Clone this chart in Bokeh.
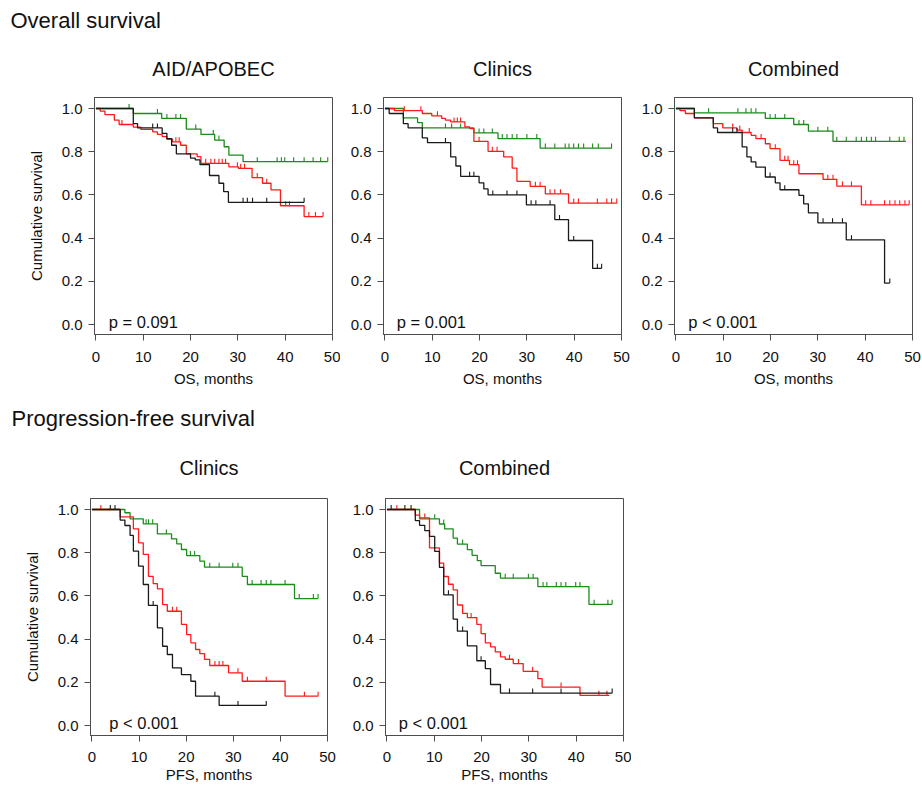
import numpy as np
from bokeh.plotting import figure
from bokeh.layouts import column, row
from bokeh.models import Label, Range1d, FixedTicker, PrintfTickFormatter
from bokeh.core.properties import value
from bokeh.embed import file_html
from bokeh.resources import INLINE

# ---------------- data (months, cumulative survival) ----------------
x_ticks = [0, 10, 20, 30, 40, 50]
y_ticks = [0.0, 0.2, 0.4, 0.6, 0.8, 1.0]
headings = ["Overall survival", "Progression-free survival"]
panel_titles = ["AID/APOBEC", "Clinics", "Combined", "Clinics", "Combined"]
x_labels = ["OS, months", "OS, months", "OS, months", "PFS, months", "PFS, months"]
p_values = ["p = 0.091", "p = 0.001", "p < 0.001", "p < 0.001", "p < 0.001"]
p_value_x = [2.7, 2.5, 2.6, 3.7, 2.5]

# Panel 1: OS, AID/APOBEC
os_aid_green_t = [7.9, 13.9, 19.1, 22.2, 25.1, 27.1, 28.1, 31.1]
os_aid_green_s = [0.977, 0.954, 0.905, 0.88, 0.854, 0.823, 0.784, 0.754]
os_aid_green_c = [7.0, 13.0, 15.0, 16.9, 17.9, 21.1, 24.8, 26.0, 34.1, 38.3, 39.2, 39.9, 41.8, 44.0, 45.9, 47.5, 49.0]
os_aid_green_end = 49.0
os_aid_red_t = [0.9, 1.9, 3.9, 4.9, 7.9, 9.5, 12, 13, 14, 15, 16.2, 17.9, 19.1, 21.4, 22.2, 28.1, 30.1, 33, 35.2, 37, 39, 44]
os_aid_red_s = [0.988, 0.972, 0.946, 0.926, 0.914, 0.903, 0.892, 0.88, 0.87, 0.858, 0.846, 0.83, 0.79, 0.777, 0.746, 0.73, 0.723, 0.68, 0.654, 0.623, 0.55, 0.5]
os_aid_red_c = [5.5, 16.9, 17.6, 23.2, 24.3, 25.1, 26.0, 26.7, 27.4, 29.9, 30.6, 31.4, 34.1, 36.1, 40.1, 40.9, 45.0, 46.4, 48.0]
os_aid_red_end = 48.0
os_aid_black_t = [7.9, 8.8, 14, 15, 16, 17, 20, 21, 22, 24, 26, 27, 28]
os_aid_black_s = [0.93, 0.91, 0.885, 0.86, 0.83, 0.79, 0.77, 0.762, 0.74, 0.69, 0.654, 0.615, 0.566]
os_aid_black_c = [12.0, 13.0, 31.1, 32.0, 33.1, 36.1, 44.0]
os_aid_black_end = 44.0

# Panel 2: OS, Clinics
os_cli_green_t = [3.9, 6.9, 7.9, 18.8, 23.9, 32.8]
os_cli_green_s = [0.957, 0.935, 0.91, 0.887, 0.861, 0.817]
os_cli_green_c = [12.8, 14.1, 16.0, 19.9, 20.9, 22.7, 24.8, 25.8, 26.9, 27.9, 30.0, 32.1, 33.9, 35.9, 38.1, 38.9, 39.9, 40.9, 42.0, 43.9, 45.1, 47.9]
os_cli_green_end = 48.0
os_cli_red_t = [2, 7.9, 9.9, 12, 12.8, 13.9, 16.9, 17.9, 18.8, 21.8, 25.1, 26.9, 27.9, 30.7, 33.9, 38.8]
os_cli_red_s = [0.99, 0.977, 0.966, 0.954, 0.946, 0.938, 0.915, 0.907, 0.848, 0.802, 0.776, 0.724, 0.663, 0.64, 0.605, 0.562]
os_cli_red_c = [4.1, 7.6, 11.1, 14.6, 15.3, 16.0, 19.9, 22.7, 23.7, 31.8, 32.8, 34.9, 35.9, 37.1, 39.9, 40.9, 44.9, 46.9, 47.9, 49.0]
os_cli_red_end = 49.0
os_cli_black_t = [0.9, 3.9, 4.9, 7.9, 9, 13.9, 15, 16, 19.9, 20.9, 21.8, 29.9, 35.9, 38.8, 43.9]
os_cli_black_s = [0.977, 0.93, 0.91, 0.864, 0.842, 0.776, 0.734, 0.686, 0.656, 0.628, 0.6, 0.554, 0.486, 0.389, 0.26]
os_cli_black_c = [12.8, 17.9, 18.8, 22.8, 25.8, 27.9, 30.9, 31.9, 34.9, 36.9, 39.9, 44.9, 45.8]
os_cli_black_end = 45.8

# Panel 3: OS, Combined
os_com_green_t = [3.9, 18.9, 24.9, 28, 33.2]
os_com_green_s = [0.98, 0.954, 0.926, 0.895, 0.848]
os_com_green_c = [6.9, 13.1, 14.8, 15.9, 16.9, 19.9, 21.0, 23.0, 26.0, 27.0, 30.0, 32.1, 34.0, 36.0, 38.1, 39.2, 40.3, 41.3, 42.2, 45.2, 47.2, 48.2]
os_com_green_end = 48.6
os_com_red_t = [0.85, 2, 3.9, 7.9, 9.9, 12.9, 14, 15.9, 16.9, 18.9, 19.9, 22, 24, 26, 31.1, 34, 39.2]
os_com_red_s = [0.99, 0.977, 0.957, 0.93, 0.91, 0.9, 0.889, 0.876, 0.861, 0.837, 0.814, 0.76, 0.74, 0.698, 0.672, 0.641, 0.554]
os_com_red_c = [12.0, 13.5, 15.5, 18.0, 21.0, 23.0, 23.7, 24.9, 25.7, 32.1, 33.2, 35.2, 37.1, 40.1, 41.2, 44.1, 45.2, 46.3, 47.3, 48.4, 49.3]
os_com_red_end = 49.3
os_com_black_t = [3.9, 7.9, 8.8, 14, 15, 15.9, 16.9, 18.9, 21, 22, 26, 27, 28, 30, 36, 44.1]
os_com_black_s = [0.957, 0.91, 0.889, 0.822, 0.776, 0.753, 0.729, 0.683, 0.656, 0.624, 0.598, 0.559, 0.517, 0.471, 0.392, 0.192]
os_com_black_c = [12.0, 12.9, 19.9, 23.0, 31.1, 33.1, 35.2, 37.1, 45.2]
os_com_black_end = 45.2

# Panel 4: PFS, Clinics
pfs_cli_green_t = [7, 8.1, 10.9, 13.9, 16.9, 18, 19, 20.1, 22.9, 23.9, 31.9, 33, 43]
pfs_cli_green_s = [0.985, 0.957, 0.934, 0.887, 0.864, 0.841, 0.815, 0.787, 0.761, 0.733, 0.691, 0.653, 0.588]
pfs_cli_green_c = [11.5, 12.0, 12.9, 15.8, 20.9, 21.8, 25.0, 27.0, 29.9, 31.0, 34.0, 35.9, 37.0, 38.0, 41.0, 44.0, 47.0, 48.0]
pfs_cli_green_end = 48.0
pfs_cli_red_t = [6, 8.8, 9.9, 10.9, 12, 13, 13.9, 15, 16, 19, 20.1, 21, 22, 22.9, 23.9, 25, 29, 31.9, 41]
pfs_cli_red_s = [0.966, 0.91, 0.846, 0.792, 0.691, 0.657, 0.633, 0.56, 0.529, 0.468, 0.421, 0.383, 0.352, 0.333, 0.306, 0.278, 0.244, 0.205, 0.136]
pfs_cli_red_c = [1.9, 17.1, 18.0, 26.1, 27.0, 27.8, 31.0, 33.0, 37.0, 45.1, 48.0]
pfs_cli_red_end = 48.0
pfs_cli_black_t = [6, 7, 8.1, 8.8, 9.9, 10.9, 12, 13.9, 15, 16, 17.1, 19, 21, 22, 27]
pfs_cli_black_s = [0.951, 0.926, 0.88, 0.807, 0.738, 0.653, 0.556, 0.452, 0.367, 0.329, 0.267, 0.236, 0.205, 0.136, 0.093]
pfs_cli_black_c = [3.9, 4.9, 13.0, 26.1, 31.0, 37.0]
pfs_cli_black_end = 37.0

# Panel 5: PFS, Combined
pfs_com_green_t = [6.9, 11.1, 12.2, 14, 14.9, 17, 18, 19.1, 19.9, 22.9, 24, 31.9, 42.7]
pfs_com_green_s = [0.957, 0.933, 0.91, 0.868, 0.84, 0.814, 0.788, 0.763, 0.74, 0.705, 0.682, 0.643, 0.561]
pfs_com_green_c = [10.1, 12.0, 16.0, 25.0, 26.7, 29.9, 30.9, 33.0, 33.8, 35.8, 36.8, 37.8, 39.9, 40.8, 43.8, 46.7, 47.6]
pfs_com_green_end = 47.6
pfs_com_red_t = [6, 6.9, 9, 11.1, 12, 13, 14, 14.9, 16, 17, 19, 19.9, 20.8, 21.9, 22.9, 24, 25, 26.7, 28.8, 31.9, 32.8, 40.8]
pfs_com_red_s = [0.974, 0.961, 0.822, 0.752, 0.69, 0.654, 0.628, 0.558, 0.519, 0.5, 0.468, 0.426, 0.383, 0.364, 0.341, 0.318, 0.307, 0.287, 0.251, 0.217, 0.178, 0.14]
pfs_com_red_c = [2.1, 8.0, 17.8, 25.9, 27.8, 30.8, 36.8, 44.8, 46.5]
pfs_com_red_end = 47.0
pfs_com_black_t = [6, 6.9, 8, 9, 10.1, 11.1, 12, 14, 14.9, 17, 19, 20.8, 21.9, 24]
pfs_com_black_s = [0.949, 0.927, 0.902, 0.876, 0.806, 0.732, 0.605, 0.493, 0.437, 0.369, 0.3, 0.264, 0.19, 0.15]
pfs_com_black_c = [0.9, 3.8, 5.1, 13.0, 16.0, 19.9, 25.9, 30.8, 36.8, 47.6]
pfs_com_black_end = 47.6

GREEN = "#1a8c1a"
RED = "#ff1a1a"
BLACK = "#1a1a1a"
FONT = "Liberation Sans"
AXIS_COL = "#4d4d4d"
TXT = "#111111"


def km(p, t, s, c, end, color):
    t = np.asarray(t, float)
    s = np.asarray(s, float)
    xs = np.concatenate([[0.0], t, [end]])
    ys = np.concatenate([[1.0], s, [s[-1]]])
    p.step(x=xs, y=ys, mode="after", line_color=color, line_width=1.3)
    c = np.asarray(c, float)
    idx = np.searchsorted(t, c, side="right")
    cs = np.where(idx == 0, 1.0, s[np.maximum(idx - 1, 0)])
    p.segment(x0=c, y0=cs, x1=c, y1=cs + 0.021, line_color=color, line_width=1.1)


def panel(i, bl, fw, br, bt, fh, bb, curves, ylabel, x_std, xlab_std):
    p = figure(width=bl + fw + br, height=bt + fh + bb, output_backend="svg",
               toolbar_location=None, min_border_left=bl, min_border_right=br,
               min_border_top=bt, min_border_bottom=bb,
               x_range=Range1d(-0.3, 50), y_range=Range1d(-0.046, 1.051))
    p.xgrid.visible = False
    p.ygrid.visible = False
    p.outline_line_color = AXIS_COL
    p.outline_line_width = 1
    p.background_fill_color = "white"
    p.border_fill_color = "white"
    for ax in (p.xaxis[0], p.yaxis[0]):
        ax.axis_line_color = AXIS_COL
        ax.major_tick_line_color = AXIS_COL
        ax.minor_tick_line_color = None
        ax.major_tick_in = 0
        ax.major_tick_out = 6
        ax.major_label_text_font = FONT
        ax.major_label_text_font_size = "15px"
        ax.major_label_text_color = TXT
        ax.axis_label_text_font = FONT
        ax.axis_label_text_font_size = "15px"
        ax.axis_label_text_font_style = "normal"
        ax.axis_label_text_color = TXT
    p.xaxis.ticker = FixedTicker(ticks=x_ticks)
    p.yaxis.ticker = FixedTicker(ticks=y_ticks)
    p.yaxis.formatter = PrintfTickFormatter(format="%.1f")
    p.xaxis.major_label_standoff = x_std
    p.yaxis.major_label_standoff = 6
    p.xaxis.axis_label = x_labels[i]
    p.xaxis.axis_label_standoff = xlab_std
    if ylabel:
        p.yaxis.axis_label = "Cumulative survival"
        p.yaxis.axis_label_standoff = 14
    for (t, s, c, end, col) in curves:
        km(p, t, s, c, end, col)
    p.add_layout(Label(x=p_value_x[i], y=0.012, text=p_values[i], text_font=FONT,
                       text_font_size="16.5px", text_color=TXT,
                       text_baseline="alphabetic", text_align="left"))
    return p


def header(width, height, heading, heading_x, heading_y, titles, title_x, title_y):
    h = figure(width=width, height=height, output_backend="svg", toolbar_location=None,
               x_axis_location=None, y_axis_location=None,
               min_border_left=0, min_border_right=0, min_border_top=0, min_border_bottom=0,
               x_range=Range1d(0, width), y_range=Range1d(height, 0))
    h.xgrid.visible = False
    h.ygrid.visible = False
    h.outline_line_color = None
    h.background_fill_color = "white"
    h.border_fill_color = "white"
    h.text(x=[heading_x], y=[heading_y], text=[heading], text_font=value(FONT),
           text_font_size=value("22px"), text_color=TXT, text_align="left",
           text_baseline="middle")
    h.text(x=title_x, y=[title_y] * len(titles), text=titles, text_font=value(FONT),
           text_font_size=value("20px"), text_color=TXT, text_align="center",
           text_baseline="middle")
    return h


W = 922
# Row 1 panels (frames at x 94-332, 383-621, 674-912; y 97-334)
p1 = panel(0, 94, 238, 8, 13, 237, 58, [
    (os_aid_green_t, os_aid_green_s, os_aid_green_c, os_aid_green_end, GREEN),
    (os_aid_red_t, os_aid_red_s, os_aid_red_c, os_aid_red_end, RED),
    (os_aid_black_t, os_aid_black_s, os_aid_black_c, os_aid_black_end, BLACK)], True, 11, 5)
p2 = panel(1, 43, 238, 11, 13, 237, 58, [
    (os_cli_green_t, os_cli_green_s, os_cli_green_c, os_cli_green_end, GREEN),
    (os_cli_red_t, os_cli_red_s, os_cli_red_c, os_cli_red_end, RED),
    (os_cli_black_t, os_cli_black_s, os_cli_black_c, os_cli_black_end, BLACK)], False, 11, 5)
p3 = panel(2, 42, 238, 10, 13, 237, 58, [
    (os_com_green_t, os_com_green_s, os_com_green_c, os_com_green_end, GREEN),
    (os_com_red_t, os_com_red_s, os_com_red_c, os_com_red_end, RED),
    (os_com_black_t, os_com_black_s, os_com_black_c, os_com_black_end, BLACK)], False, 11, 5)
# Row 2 panels (frames at x 90-327, 385-623; y 498-735)
p4 = panel(3, 90, 237, 13, 13, 237, 52, [
    (pfs_cli_green_t, pfs_cli_green_s, pfs_cli_green_c, pfs_cli_green_end, GREEN),
    (pfs_cli_red_t, pfs_cli_red_s, pfs_cli_red_c, pfs_cli_red_end, RED),
    (pfs_cli_black_t, pfs_cli_black_s, pfs_cli_black_c, pfs_cli_black_end, BLACK)], True, 10, 1)
p5 = panel(4, 45, 238, 8, 13, 237, 52, [
    (pfs_com_green_t, pfs_com_green_s, pfs_com_green_c, pfs_com_green_end, GREEN),
    (pfs_com_red_t, pfs_com_red_s, pfs_com_red_c, pfs_com_red_end, RED),
    (pfs_com_black_t, pfs_com_black_s, pfs_com_black_c, pfs_com_black_end, BLACK)], False, 10, 1)

h1 = header(W, 84, headings[0], 10, 20, panel_titles[:3], [213, 502, 793], 68)
h2 = header(W, 93, headings[1], 11, 26, panel_titles[3:], [208.5, 504], 75)

layout = column(h1, row(p1, p2, p3, spacing=0), h2, row(p4, p5, spacing=0), spacing=0)
open("out.html", "w").write(file_html(layout, INLINE))
